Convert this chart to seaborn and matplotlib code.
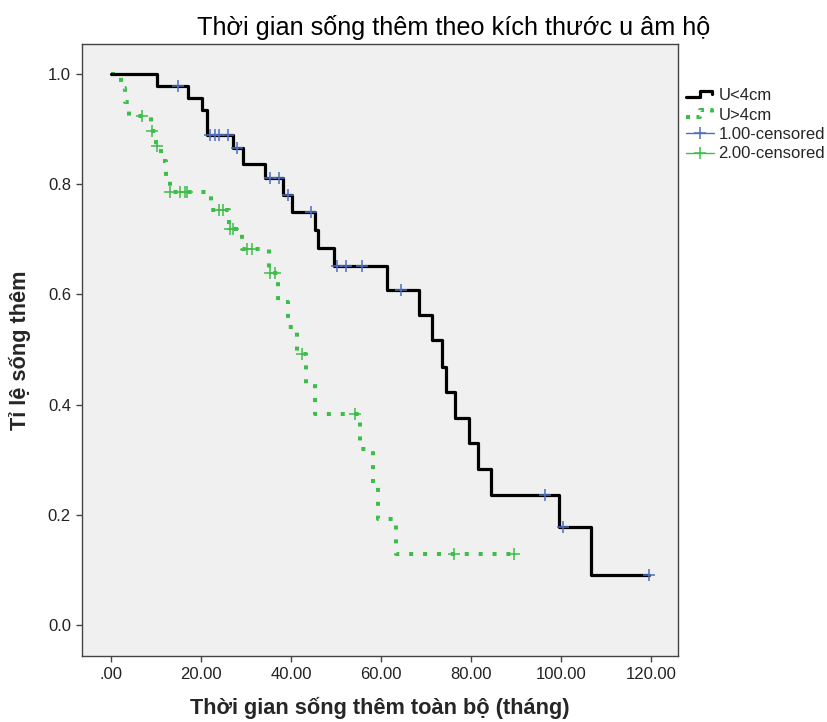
import numpy as np
import pandas as pd
import matplotlib
matplotlib.use("Agg")
import matplotlib.pyplot as plt
import seaborn as sns
from matplotlib.lines import Line2D
from matplotlib.legend_handler import HandlerBase

# Kaplan-Meier step points (time in months, survival after the step)
small_time = [0, 10.2, 17.2, 20.2, 21.3, 27.2, 29.4, 34.2, 38.2, 40.3, 45.3, 46.1,
              49.6, 61.3, 68.4, 71.4, 73.6, 74.4, 76.4, 79.6, 81.6, 84.4, 99.6,
              106.6, 119.6]
small_surv = [1.0, 0.978, 0.956, 0.935, 0.889, 0.865, 0.837, 0.811, 0.780, 0.750,
              0.717, 0.685, 0.652, 0.608, 0.563, 0.517, 0.469, 0.423, 0.376, 0.331,
              0.283, 0.236, 0.178, 0.091, 0.091]
small_cens_time = [15.0, 22.0, 23.1, 24.1, 26.1, 28.1, 35.3, 37.3, 39.3, 44.4, 50.2,
                   52.2, 55.7, 64.4, 96.4, 100.5, 119.6]
small_cens_surv = [0.978, 0.889, 0.889, 0.889, 0.889, 0.865, 0.811, 0.811, 0.780,
                   0.750, 0.652, 0.652, 0.652, 0.608, 0.236, 0.178, 0.091]

large_time = [0, 2.2, 3.1, 4.0, 9.0, 10.1, 11.2, 12.2, 13.1, 22.2, 26.2, 29.1, 35.1,
              37.2, 39.3, 41.3, 43.3, 45.3, 55.3, 58.3, 59.3, 63.3, 89.6]
large_surv = [1.0, 0.974, 0.949, 0.923, 0.897, 0.870, 0.843, 0.815, 0.786, 0.753,
              0.719, 0.683, 0.639, 0.586, 0.541, 0.492, 0.438, 0.383, 0.320, 0.256,
              0.193, 0.129, 0.129]
large_cens_time = [7.0, 9.2, 10.2, 13.2, 15.4, 16.5, 17.0, 24.1, 24.9, 26.4, 27.2,
                   30.2, 31.3, 35.3, 36.4, 42.4, 54.2, 76.2, 89.6]
large_cens_surv = [0.923, 0.897, 0.870, 0.786, 0.786, 0.786, 0.786, 0.753, 0.753,
                   0.719, 0.719, 0.683, 0.683, 0.639, 0.639, 0.492, 0.383, 0.129,
                   0.129]

legend_labels = ["U<4cm", "U>4cm", "1.00-censored", "2.00-censored"]
x_ticks = [0, 20, 40, 60, 80, 100, 120]
x_tick_labels = [".00", "20.00", "40.00", "60.00", "80.00", "100.00", "120.00"]
y_ticks = [0.0, 0.2, 0.4, 0.6, 0.8, 1.0]
y_tick_labels = ["0.0", "0.2", "0.4", "0.6", "0.8", "1.0"]

title = "Thời gian sống thêm theo kích thước u âm hộ"
x_label = "Thời gian sống thêm toàn bộ (tháng)"
y_label = "Tỉ lệ sống thêm"

BLACK = "#000000"
GREEN = "#3DBE4A"
BLUE = "#4F6DBF"
FRAME = "#444444"
DOT_LW = 2.9
DOTS = (1.0, 2.45)

sns.set_style("white")
plt.rcParams["font.family"] = ["Liberation Sans", "DejaVu Sans"]

W, H = 827, 722
fig = plt.figure(figsize=(W / 100, H / 100), dpi=100)
fig.patch.set_facecolor("white")
ax = fig.add_axes([82 / W, 1 - 656 / H, (678 - 82) / W, (656 - 44) / H])
ax.set_facecolor("#F0F0F0")

small_df = pd.DataFrame({"t": small_time, "s": small_surv})
large_df = pd.DataFrame({"t": large_time, "s": large_surv})
small_c = pd.DataFrame({"t": small_cens_time, "s": small_cens_surv})
large_c = pd.DataFrame({"t": large_cens_time, "s": large_cens_surv})

sns.lineplot(data=large_df, x="t", y="s", ax=ax, estimator=None, sort=False,
             drawstyle="steps-post", color=GREEN, linewidth=DOT_LW, legend=False)
green_line = ax.lines[-1]
green_line.set_dashes(DOTS)
green_line.set_dash_capstyle("butt")

sns.lineplot(data=small_df, x="t", y="s", ax=ax, estimator=None, sort=False,
             drawstyle="steps-post", color=BLACK, linewidth=2.3, legend=False)
sns.lineplot(data=large_c, x="t", y="s", ax=ax, estimator=None, sort=False,
             color=GREEN, marker="+", markersize=9, markeredgewidth=1.1,
             markeredgecolor=GREEN, linestyle="none", legend=False)
sns.lineplot(data=small_c, x="t", y="s", ax=ax, estimator=None, sort=False,
             color=BLUE, marker="+", markersize=9, markeredgewidth=1.1,
             markeredgecolor=BLUE, linestyle="none", legend=False)

ax.set_xlim(-6.44, 126.0)
ax.set_ylim(-0.0563, 1.0545)
ax.set_xticks(x_ticks)
ax.set_xticklabels(x_tick_labels)
ax.set_yticks(y_ticks)
ax.set_yticklabels(y_tick_labels)
ax.tick_params(axis="both", direction="out", length=4, width=1,
               color=FRAME, labelsize=12, labelcolor="#222222", pad=4,
               bottom=True, left=True)
for sp in ax.spines.values():
    sp.set_visible(True)
    sp.set_color(FRAME)
    sp.set_linewidth(1.0)

ax.set_xlabel(x_label, fontsize=15.7, fontweight="bold", labelpad=11)
ax.set_ylabel(y_label, fontsize=15.7, fontweight="bold", labelpad=12)
fig.text(454 / W, 1 - 28 / H, title, ha="center", va="center", fontsize=18.2,
         color="black")


class StepHandler(HandlerBase):
    """Draws a small step-shaped sample line in the legend."""

    def __init__(self, dashes=None):
        super().__init__()
        self.dashes = dashes

    def create_artists(self, legend, orig_handle, xdescent, ydescent, width,
                       height, fontsize, trans):
        xs = np.array([0.0, 0.5, 0.5, 0.92, 0.92]) * width - xdescent
        ys = np.array([0.25, 0.25, 0.8, 0.8, 0.5]) * height - ydescent
        line = Line2D(xs, ys, color=orig_handle.get_color(),
                      linewidth=orig_handle.get_linewidth())
        if self.dashes is not None:
            line.set_dashes(self.dashes)
        line.set_dash_capstyle("butt")
        line.set_transform(trans)
        return [line]


h_small = Line2D([], [], color=BLACK, linewidth=2.3)
h_large = Line2D([], [], color=GREEN, linewidth=DOT_LW)
h_c1 = Line2D([], [], color=BLUE, linewidth=1.0, marker="+", markersize=9,
              markeredgewidth=1.1, markeredgecolor=BLUE)
h_c2 = Line2D([], [], color=GREEN, linewidth=1.0, marker="+", markersize=9,
              markeredgewidth=1.1, markeredgecolor=GREEN)
fig.legend([h_small, h_large, h_c1, h_c2], legend_labels,
           handler_map={h_small: StepHandler(),
                        h_large: StepHandler(dashes=(1.0, 1.6))},
           loc="upper left", bbox_to_anchor=(686 / W, 1 - 88 / H),
           frameon=False, fontsize=12, handlelength=1.7, handletextpad=0.25,
           labelspacing=0.27, borderpad=0, borderaxespad=0)

fig.savefig("out.png", dpi=100, facecolor="white")
